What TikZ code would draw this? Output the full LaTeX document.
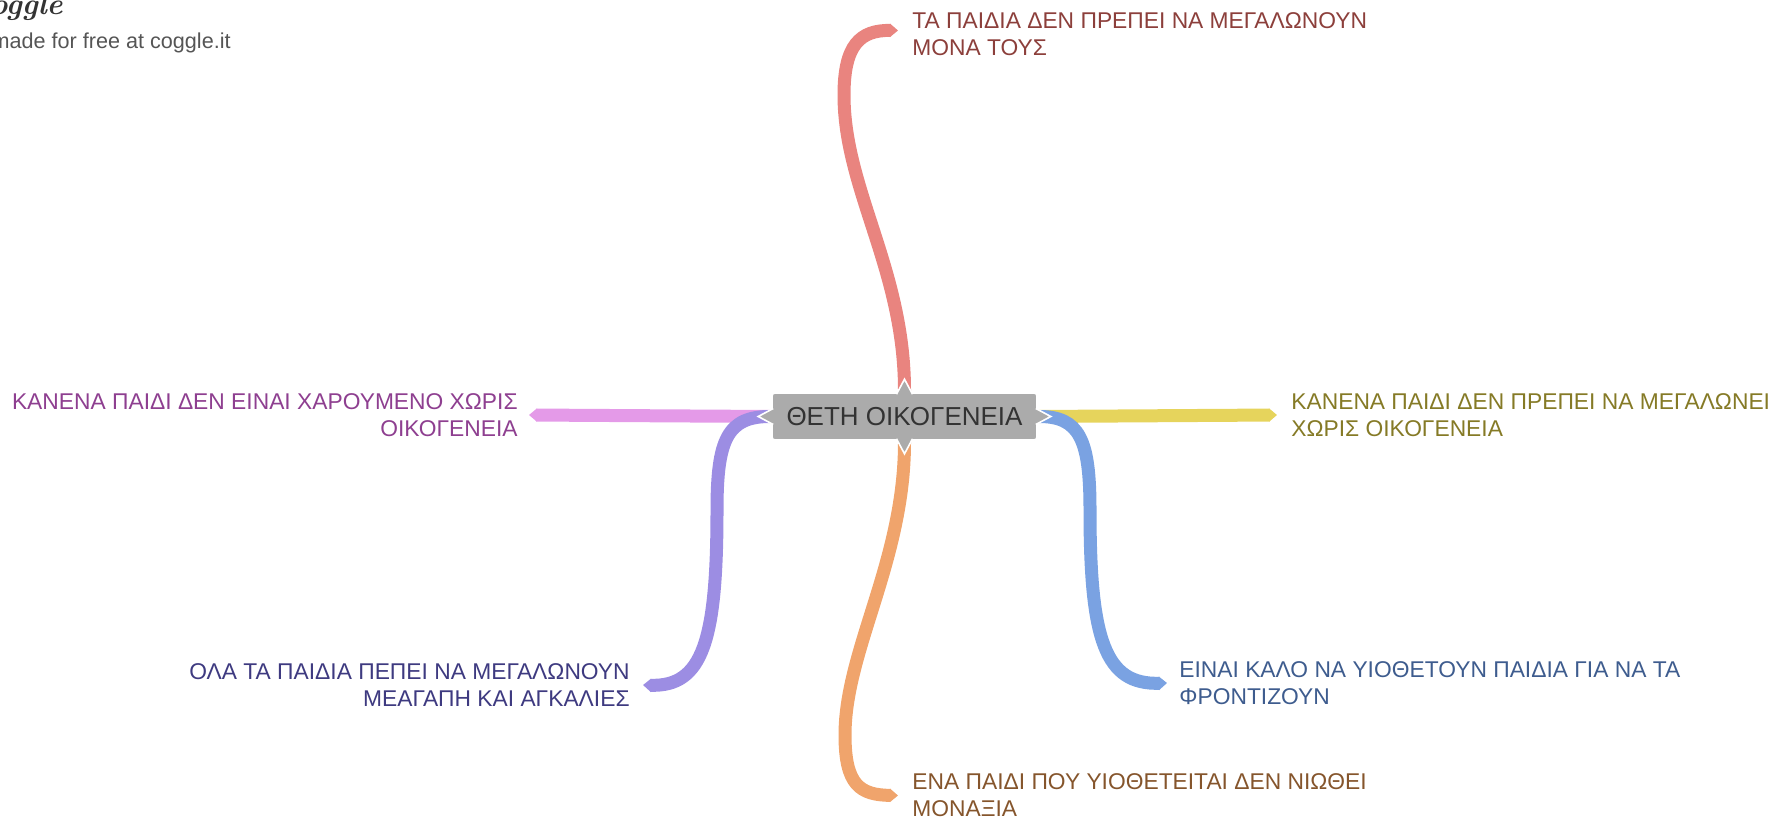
\documentclass[tikz,border=0pt]{standalone}
\usepackage{fontspec}
\setsansfont{Liberation Sans}
\usetikzlibrary{arrows.meta,calc,backgrounds}
\definecolor{rootfill}{HTML}{ABABAB}
\definecolor{roottext}{HTML}{333333}
\definecolor{credit}{HTML}{555555}
\definecolor{redbranch}{HTML}{E9847F}
\definecolor{redtext}{HTML}{8C3F3B}
\definecolor{yellowbranch}{HTML}{E6D45C}
\definecolor{yellowtext}{HTML}{857A26}
\definecolor{pinkbranch}{HTML}{E49AE8}
\definecolor{pinktext}{HTML}{8E3F90}
\definecolor{lavenderbranch}{HTML}{9C8DE3}
\definecolor{lavendertext}{HTML}{3E3A80}
\definecolor{bluebranch}{HTML}{7AA2E2}
\definecolor{bluetext}{HTML}{3E5C8E}
\definecolor{orangebranch}{HTML}{F0A46C}
\definecolor{orangetext}{HTML}{85552C}
\tikzstyle{root} = [rectangle, rounded corners=1.5pt, fill=rootfill, draw=white, line width=0.8pt, minimum width=132.5pt, minimum height=23.5pt, text=roottext, font=\sffamily\fontsize{13}{15}\selectfont]
\tikzstyle{leaf} = [inner sep=0pt, font=\sffamily\fontsize{11.4}{13.5}\selectfont]
\tikzstyle{branch} = [line width=6.5pt, -{Triangle[length=4pt,width=6.5pt]}]
\tikzstyle{notch} = [fill=rootfill, draw=white, line width=0.8pt]

\begin{document}
\begin{tikzpicture}[x=0.5pt, y=-0.5pt]
	\useasboundingbox (0,0) rectangle (1777,818);
	\node (logo) at (63, 15) [anchor=base east, inner sep=0pt, text=roottext, font=\rmfamily\bfseries\itshape\fontsize{15}{15}\selectfont] {coggle};
	\node (credit) at (231, 43) [anchor=east, inner sep=0pt, text=credit, font=\sffamily\fontsize{10.8}{12}\selectfont] {made for free at coggle.it};
	\node (root) at (904.5, 416.5) [root] {ΘΕΤΗ ΟΙΚΟΓΕΝΕΙΑ};
	\node (alone) at (912, 34.5) [leaf, anchor=west, align=left, text=redtext] {ΤΑ ΠΑΙΔΙΑ ΔΕΝ ΠΡΕΠΕΙ ΝΑ ΜΕΓΑΛΩΝΟΥΝ\\ΜΟΝΑ ΤΟΥΣ};
	\node (grow) at (1291, 415) [leaf, anchor=west, align=left, text=yellowtext] {ΚΑΝΕΝΑ ΠΑΙΔΙ ΔΕΝ ΠΡΕΠΕΙ ΝΑ ΜΕΓΑΛΩΝΕΙ\\ΧΩΡΙΣ ΟΙΚΟΓΕΝΕΙΑ};
	\node (happy) at (518, 415) [leaf, anchor=east, align=right, text=pinktext] {ΚΑΝΕΝΑ ΠΑΙΔΙ ΔΕΝ ΕΙΝΑΙ ΧΑΡΟΥΜΕΝΟ ΧΩΡΙΣ\\ΟΙΚΟΓΕΝΕΙΑ};
	\node (love) at (630, 685) [leaf, anchor=east, align=right, text=lavendertext] {ΟΛΑ ΤΑ ΠΑΙΔΙΑ ΠΕΠΕΙ ΝΑ ΜΕΓΑΛΩΝΟΥΝ\\ΜΕΑΓΑΠΗ ΚΑΙ ΑΓΚΑΛΙΕΣ};
	\node (adopt) at (1179, 683) [leaf, anchor=west, align=left, text=bluetext] {ΕΙΝΑΙ ΚΑΛΟ ΝΑ ΥΙΟΘΕΤΟΥΝ ΠΑΙΔΙΑ ΓΙΑ ΝΑ ΤΑ\\ΦΡΟΝΤΙΖΟΥΝ};
	\node (lonely) at (912, 795.5) [leaf, anchor=west, align=left, text=orangetext] {ΕΝΑ ΠΑΙΔΙ ΠΟΥ ΥΙΟΘΕΤΕΙΤΑΙ ΔΕΝ ΝΙΩΘΕΙ\\ΜΟΝΑΞΙΑ};
	\begin{pgfonlayer}{background}
		\draw[branch, yellowbranch] (root.east) -- ([xshift=-7pt]grow.west);
		\draw[branch, pinkbranch] (root.west) -- ([xshift=5.5pt]happy.east);
		\draw[branch, bluebranch] (root.east) .. controls (1080, 416) and (1090, 440) .. (1090, 510) .. controls (1090, 640) and (1105, 685) .. ([xshift=-6pt]adopt.west);
		\draw[branch, lavenderbranch] (root.west) .. controls (727, 416) and (717, 440) .. (717, 510) .. controls (717, 640) and (703, 687) .. ([xshift=6.5pt]love.east);
		\draw[branch, redbranch] (root.north) .. controls (905, 270) and (844, 190) .. (844, 95) .. controls (844, 45) and (860, 30) .. ([shift={(-7pt,2pt)}]alone.west);
		\draw[branch, orangebranch] (root.south) .. controls (905, 560) and (845, 650) .. (845, 735) .. controls (845, 785) and (860, 795) .. ([xshift=-7pt]lonely.west);
	\end{pgfonlayer}
	\path[notch] ($(root.north)+(-8,2)$) -- ($(root.north)+(0,-13)$) -- ($(root.north)+(8,2)$);
	\path[notch] ($(root.south)+(-8,-2)$) -- ($(root.south)+(0,13)$) -- ($(root.south)+(8,-2)$);
	\path[notch] ($(root.west)+(2,-8)$) -- ($(root.west)+(-13,0)$) -- ($(root.west)+(2,8)$);
	\path[notch] ($(root.east)+(-2,-8)$) -- ($(root.east)+(13,0)$) -- ($(root.east)+(-2,8)$);
\end{tikzpicture}
\end{document}
